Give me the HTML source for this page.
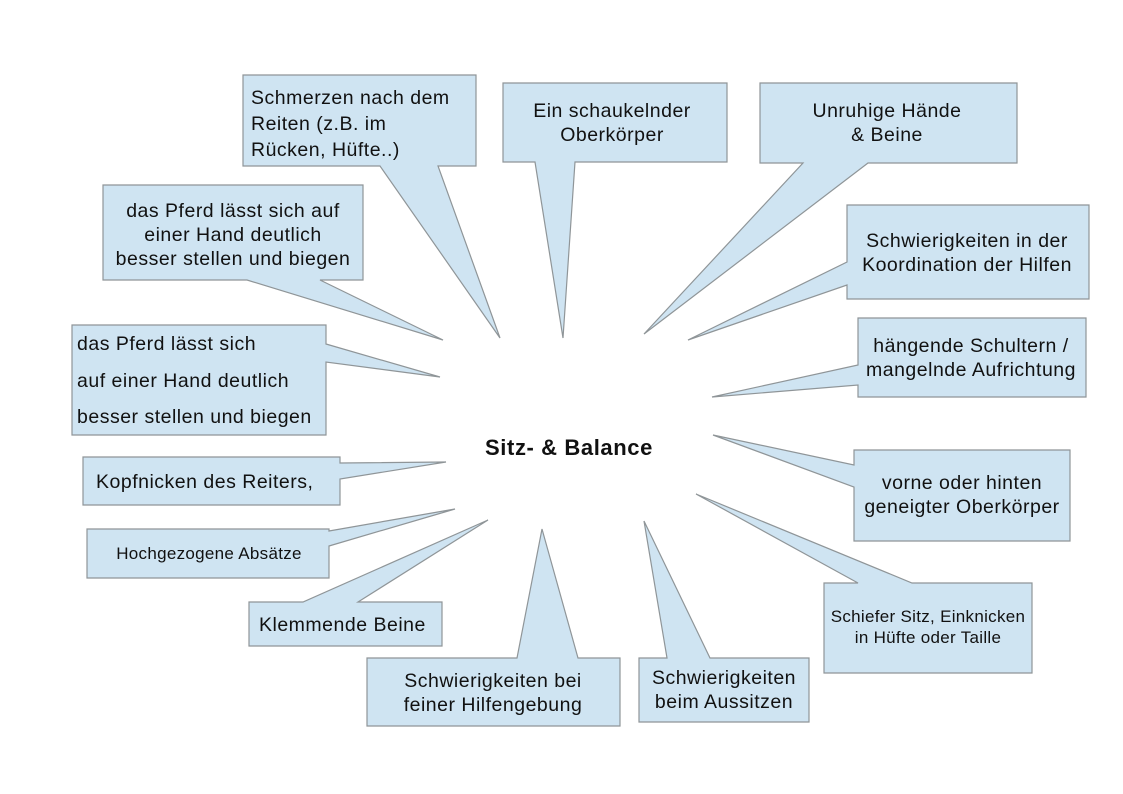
<!DOCTYPE html>
<html><head><meta charset="utf-8"><style>
html,body{margin:0;padding:0;background:#fff;}
svg{display:block;}
text{font-family:"Liberation Sans",Arial,sans-serif;fill:#111;}
</style></head><body>
<svg width="1123" height="794" viewBox="0 0 1123 794" xmlns="http://www.w3.org/2000/svg">
<g fill="#cfe4f2" stroke="#8f9598" stroke-width="1.2" stroke-linejoin="miter">
<path d="M243,75 H476 V166 H438 L500,338 L380,166 H243 Z"/>
<path d="M103,185 H363 V280 H320 L443,340 L247,280 H103 Z"/>
<path d="M72,325 H326 V344 L440,377 L326,362 V435 H72 Z"/>
<path d="M83,457 H340 V463 L446,462 L340,479 V505 H83 Z"/>
<path d="M87,529 H329 V531 L455,509 L329,546 V578 H87 Z"/>
<path d="M249,602 H303 L488,520 L358,602 H442 V646 H249 Z"/>
<path d="M367,658 H517 L542,529 L578,658 H620 V726 H367 Z"/>
<path d="M639,658 H667 L644,521 L710,658 H809 V722 H639 Z"/>
<path d="M824,583 H858 L696,494 L912,583 H1032 V673 H824 Z"/>
<path d="M854,450 H1070 V541 H854 V487 L713,435 L854,465 Z"/>
<path d="M858,318 H1086 V397 H858 V385 L712,397 L858,365 Z"/>
<path d="M847,205 H1089 V299 H847 V285 L688,340 L847,262 Z"/>
<path d="M760,83 H1017 V163 H868 L644,334 L803,163 H760 Z"/>
<path d="M503,83 H727 V162 H575 L563,338 L535,162 H503 Z"/>
</g>
<g font-size="19.5" letter-spacing="0.5">
<text x="251" y="104">Schmerzen nach dem</text>
<text x="251" y="130">Reiten (z.B.  im</text>
<text x="251" y="156">Rücken, Hüfte..)</text>
<g text-anchor="middle">
<text x="233" y="217">das Pferd lässt sich auf</text>
<text x="233" y="241">einer Hand deutlich</text>
<text x="233" y="265">besser stellen und biegen</text>
<text x="612" y="117">Ein schaukelnder</text>
<text x="612" y="141">Oberkörper</text>
<text x="887" y="117">Unruhige Hände</text>
<text x="887" y="141">&amp; Beine</text>
<text x="967" y="247">Schwierigkeiten in der</text>
<text x="967" y="271">Koordination der Hilfen</text>
<text x="971" y="352">hängende Schultern /</text>
<text x="971" y="376">mangelnde Aufrichtung</text>
<text x="962" y="489">vorne oder hinten</text>
<text x="962" y="513">geneigter Oberkörper</text>
<text x="493" y="687">Schwierigkeiten bei</text>
<text x="493" y="711">feiner Hilfengebung</text>
<text x="724" y="684">Schwierigkeiten</text>
<text x="724" y="708">beim Aussitzen</text>
</g>
<text x="77" y="350">das Pferd lässt sich</text>
<text x="77" y="387">auf einer Hand deutlich</text>
<text x="77" y="423">besser stellen und biegen</text>
<text x="96" y="488">Kopfnicken des Reiters,</text>
<text x="259" y="631">Klemmende Beine</text>
</g>
<text x="209" y="559" font-size="17" letter-spacing="0.3" text-anchor="middle">Hochgezogene Absätze</text>
<g font-size="17" letter-spacing="0.3" text-anchor="middle">
<text x="928" y="622">Schiefer Sitz, Einknicken</text>
<text x="928" y="643">in Hüfte oder Taille</text>
</g>
<text x="569" y="455" font-size="22" font-weight="bold" letter-spacing="0.6" text-anchor="middle">Sitz- &amp; Balance</text>
</svg>
</body></html>
